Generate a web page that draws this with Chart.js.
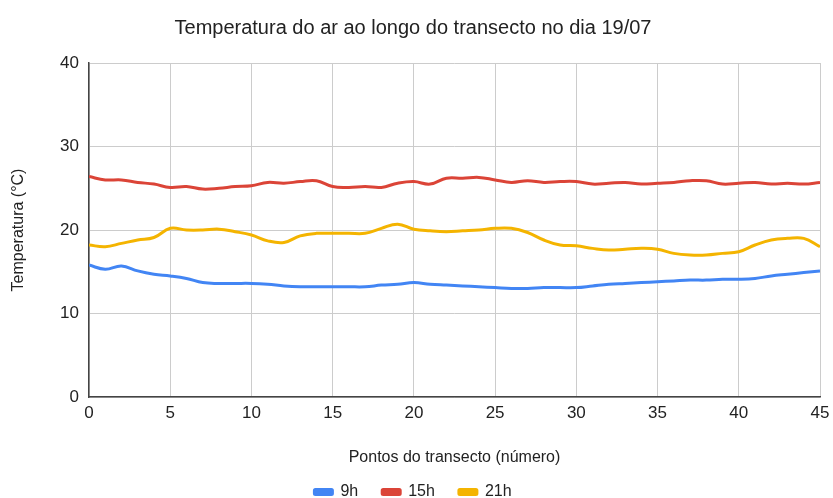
<!DOCTYPE html>
<html>
<head>
<meta charset="utf-8">
<script src="https://cdn.jsdelivr.net/npm/chart.js@4"></script>
<style>
  html, body { margin: 0; padding: 0; background: #fff; }
  #wrap { width: 833px; height: 498px; }
</style>
</head>
<body>
<div id="wrap"><canvas id="chart" width="833" height="498"></canvas></div>
<script>
// pontos do transecto 0..45
const pontos = [0,1,2,3,4,5,6,7,8,9,10,11,12,13,14,15,16,17,18,19,20,21,22,23,24,25,26,27,28,29,30,31,32,33,34,35,36,37,38,39,40,41,42,43,44,45];

const temp9h = [15.8,15.3,15.7,15.1,14.7,14.5,14.2,13.7,13.6,13.6,13.6,13.5,13.3,13.2,13.2,13.2,13.2,13.2,13.4,13.5,
  13.7,13.5,13.4,13.3,13.2,13.1,13.0,13.0,13.1,13.1,13.1,13.3,13.5,13.6,13.7,13.8,13.9,14.0,14.0,14.1,
  14.1,14.2,14.5,14.7,14.9,15.1];
const temp15h = [26.4,26.0,26.0,25.7,25.5,25.1,25.2,24.9,25.0,25.2,25.3,25.7,25.6,25.8,25.9,25.2,25.1,25.2,25.1,25.6,
  25.8,25.5,26.2,26.2,26.3,26.0,25.7,25.9,25.7,25.8,25.8,25.5,25.6,25.7,25.5,25.6,25.7,25.9,25.9,25.5,
  25.6,25.7,25.5,25.6,25.5,25.7];
const temp21h = [18.2,18.0,18.4,18.8,19.1,20.2,20.0,20.0,20.1,19.8,19.4,18.7,18.5,19.3,19.6,19.6,19.6,19.6,20.2,20.7,
  20.1,19.9,19.8,19.9,20.0,20.2,20.2,19.7,18.8,18.2,18.1,17.8,17.6,17.7,17.8,17.7,17.2,17.0,17.0,17.2,
  17.4,18.2,18.8,19.0,19.0,18.0];

const seriesNames = ['9h', '15h', '21h'];
const seriesColors = ['#4285F4', '#DB4437', '#F4B400'];

function pairs(values) {
    return values.map((v, i) => ({ x: pontos[i], y: v }));
}

const ctx = document.getElementById('chart').getContext('2d');
const fontFamily = '"Liberation Sans", Arial, sans-serif';

new Chart(ctx, {
    type: 'line',
    data: {
        datasets: [temp9h, temp15h, temp21h].map((vals, k) => ({
            label: seriesNames[k],
            data: pairs(vals),
            borderColor: seriesColors[k],
            backgroundColor: seriesColors[k],
            borderWidth: 3,
            borderRadius: 1,
            pointRadius: 0,
            tension: 0.4,
            fill: false
        }))
    },
    options: {
        responsive: false,
        animation: false,
        // bottom negative so the legend row sits lower, like the original
        layout: { padding: { top: 10, left: 6, right: 13, bottom: -12 } },
        plugins: {
            title: {
                display: true,
                text: 'Temperatura do ar ao longo do transecto no dia 19/07',
                color: '#222',
                font: { family: fontFamily, size: 20, weight: 'normal' },
                padding: { top: 6, bottom: 23 }
            },
            legend: {
                position: 'bottom',
                labels: {
                    color: '#222',
                    font: { family: fontFamily, size: 16 },
                    boxWidth: 18,
                    boxHeight: 5,
                    useBorderRadius: true,
                    borderRadius: 1,
                    padding: 24
                }
            },
            tooltip: { enabled: false }
        },
        scales: {
            x: {
                type: 'linear',
                min: 0,
                max: 45,
                ticks: {
                    stepSize: 5,
                    color: '#222',
                    font: { family: fontFamily, size: 17 },
                    padding: 6
                },
                grid: { color: '#cccccc', drawTicks: false },
                border: { color: '#444', width: 1.5 },
                title: {
                    display: true,
                    text: 'Pontos do transecto (número)',
                    color: '#222',
                    font: { family: fontFamily, size: 16 },
                    padding: { top: 22, bottom: -7 }
                },
                afterFit: function(scale) {
                    scale.height = 63;
                    scale.paddingRight = 0;
                }
            },
            y: {
                min: 0,
                max: 40,
                ticks: {
                    stepSize: 10,
                    color: '#222',
                    font: { family: fontFamily, size: 17 },
                    padding: 10
                },
                grid: { color: '#cccccc', drawTicks: false },
                border: { color: '#444', width: 1.5 },
                title: {
                    display: true,
                    text: 'Temperatura (°C)',
                    color: '#222',
                    font: { family: fontFamily, size: 16 },
                    padding: { top: 3, bottom: 4 }
                },
                afterFit: function(scale) {
                    scale.width = 83;
                }
            }
        }
    }
});
</script>
</body>
</html>
